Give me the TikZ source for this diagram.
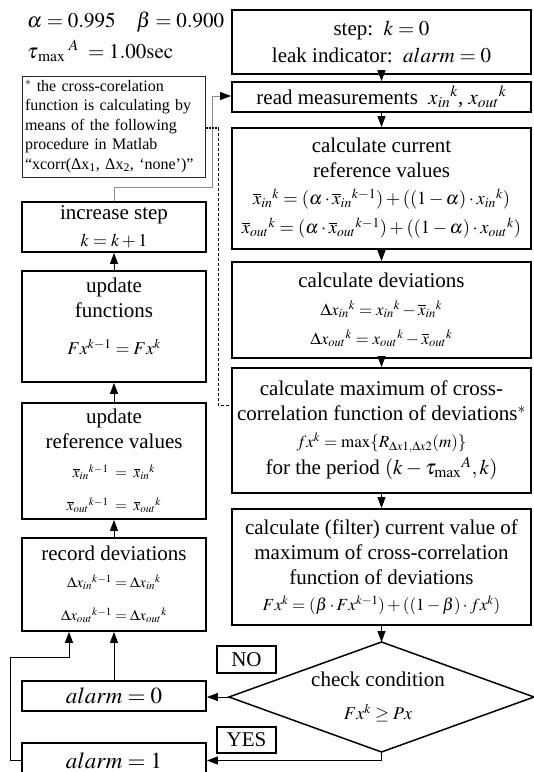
\documentclass[tikz,border=0pt]{standalone}
\usepackage{mathptmx}
\usepackage{fontspec}
\setmainfont{Liberation Serif}
\usetikzlibrary{arrows.meta,shapes.geometric}
\begin{document}
\begin{tikzpicture}[x=1pt,y=-1pt,
  box/.style={draw, line width=1.8pt, inner sep=0pt, align=center, font=\fontsize{21}{25}\selectfont},
  arr/.style={line width=1pt, -{Triangle[length=11pt,width=8pt]}},
  lbl/.style={draw, line width=1.5pt, inner sep=0pt, minimum width=59pt, font=\fontsize{21}{25}\selectfont},
  txt/.style={inner sep=0pt, align=center, font=\fontsize{21}{25}\selectfont},
]
\useasboundingbox (0,0) rectangle (534,772);
\newcommand{\sm}{\fontsize{17}{20}\selectfont}
\newcommand{\ssm}{\fontsize{15}{18}\selectfont}
% parameters
\node[anchor=west, inner sep=0pt, font=\fontsize{21}{25}\selectfont] (par1) at (27,22) {$\alpha=0.995\quad\beta=0.900$};
\node[anchor=west, inner sep=0pt, font=\fontsize{21}{25}\selectfont] (par2) at (27,51) {$\tau_{\,\max}{}^{\;A}\;=1.00\mathrm{sec}$};
% right column
\node[box, minimum width=299pt, minimum height=64pt] (b1) at (381.5,42) {step:\ \ $k=0$\\[2pt]leak indicator:\ \ $alarm=0$};
\node[box, minimum width=299pt, minimum height=30pt] (b2) at (381.5,97) {read measurements\ \ $x_{in}{}^{k}$,\ $x_{out}{}^{k}$};
\node[box, minimum width=299pt, minimum height=121pt] (b3) at (381.5,188.5) {calculate current\\reference values\\[2pt]{\fontsize{18.5}{22}\selectfont$\overline{x}_{in}{}^{k}=(\alpha\cdot\overline{x}_{in}{}^{k-1})+((1-\alpha)\cdot x_{in}{}^{k})$}\\[4pt]{\fontsize{18.5}{22}\selectfont$\overline{x}_{out}{}^{k}=(\alpha\cdot\overline{x}_{out}{}^{k-1})+((1-\alpha)\cdot x_{out}{}^{k})$}};
\node[box, minimum width=299pt, minimum height=96pt] (b4) at (381.5,310) {calculate deviations\\[3pt]{\sm$\Delta x_{in}{}^{k}=x_{in}{}^{k}-\overline{x}_{in}{}^{k}$}\\[4pt]{\sm$\Delta x_{out}{}^{k}=x_{out}{}^{k}-\overline{x}_{out}{}^{k}$}};
\node[box, minimum width=299pt, minimum height=125pt] (b5) at (381.5,430.5) {calculate maximum of cross-\\correlation function of deviations$^{*}$\\[2pt]{\sm$fx^{k}=\max\{R_{\Delta x1,\Delta x2}(m)\}$}\\[2pt]for the period $(k-\tau_{\max}{}^{A},k)$};
\node[box, minimum width=299pt, minimum height=116pt] (b6) at (381.5,567) {calculate (filter) current value of\\maximum of cross-correlation\\function of deviations\\[1pt]{\fontsize{17}{20}\selectfont$Fx^{k}=(\beta\cdot Fx^{k-1})+((1-\beta)\cdot fx^{k})$}};
% decision diamond
\coordinate (dt) at (381.5,642);
\coordinate (dr) at (534,697);
\coordinate (db) at (381.5,752);
\coordinate (dl) at (229,697);
\draw[line width=1.5pt, line join=miter] (dt) -- (dr) -- (db) -- (dl) -- cycle;
\node[txt] (dia) at (378,697) {check condition\\[8pt]{\fontsize{18}{20}\selectfont$Fx^{k}\ge Px$}};
\node[lbl, minimum height=27pt] (no) at (246.5,659.5) {NO};
\node[lbl, minimum height=26pt] (yes) at (246.5,740) {YES};
% left column
\node[draw, line width=1pt, draw=black!85, text width=177pt, align=left, inner xsep=3pt, inner ysep=2pt, minimum height=101pt, font=\fontsize{16}{19.5}\selectfont] (note) at (113.5,126.5) {$^{*}$ the cross-corelation\\function is calculating by\\means of the following\\procedure in Matlab\\“xcorr(Δx\textsubscript{1}, Δx\textsubscript{2}, ‘none’)”};
\node[box, minimum width=184pt, minimum height=50pt] (inc) at (114,227) {increase step\\[2pt]{\fontsize{18}{20}\selectfont$k=k+1$}};
\node[box, minimum width=184pt, minimum height=111pt] (upf) at (114,326.5) {};
\node[txt, anchor=north] (upft) at (114,278) {update\\functions\\[12pt]{\fontsize{18}{20}\selectfont$Fx^{k-1}=Fx^{k}$}};
\node[box, minimum width=184pt, minimum height=116pt] (upr) at (114,461) {update\\reference values\\[4pt]{\ssm$\overline{x}_{in}{}^{k-1}\;=\;\overline{x}_{in}{}^{k}$}\\[8pt]{\ssm$\overline{x}_{out}{}^{k-1}\;=\;\overline{x}_{out}{}^{k}$}};
\node[box, minimum width=184pt, minimum height=93pt] (rec) at (114,584.5) {record deviations\\[2pt]{\ssm$\Delta x_{in}{}^{k-1}=\Delta x_{in}{}^{k}$}\\[8pt]{\ssm$\Delta x_{out}{}^{k-1}=\Delta x_{out}{}^{k}$}};
\node[box, minimum width=184pt, minimum height=30pt, font=\fontsize{23}{25}\selectfont] (a0) at (114,696) {$alarm=0$};
\node[box, minimum width=184pt, minimum height=35pt, font=\fontsize{23}{25}\selectfont] (a1) at (114,760.5) {$alarm=1$};
% connectors right column
\draw[arr] (b1) -- (b2);
\draw[arr] (b2) -- (b3);
\draw[arr] (b3) -- (b4);
\draw[arr] (b4) -- (b5);
\draw[arr] (b5) -- (b6);
\draw[arr] (b6.south) -- (dt);
\draw[arr] (dl) -- (dl -| a0.east);
\draw[arr] (db) |- (a1.east);
% left column connectors
\coordinate (c1) at (10,657);
\coordinate (c2) at (69,657);
\draw[arr] (a1.west) -| (c1) -- (c2) -- (c2 |- rec.south);
\draw[arr] (a0.north) -- (rec.south);
\draw[arr] (rec) -- (upr);
\draw[arr] (upr) -- (upf);
\draw[arr] (upf) -- (inc);
\coordinate (c3) at (212,187);
\coordinate (c4) at (212,96);
\draw[line width=1pt, black!45, -{Triangle[length=11pt,width=8pt,color=black]}] (inc.north) |- (c3) -- (c4) -- (c4 -| b2.west);
\coordinate (d1) at (218,128);
\coordinate (d2) at (218,405);
\draw[line width=2pt, dash pattern=on 2pt off 1pt] (note.east |- d1) -- (d1);
\draw[line width=0.8pt, dash pattern=on 3pt off 2pt] (d1) -- (d2) -- (d2 -| b5.west);
\end{tikzpicture}
\end{document}
